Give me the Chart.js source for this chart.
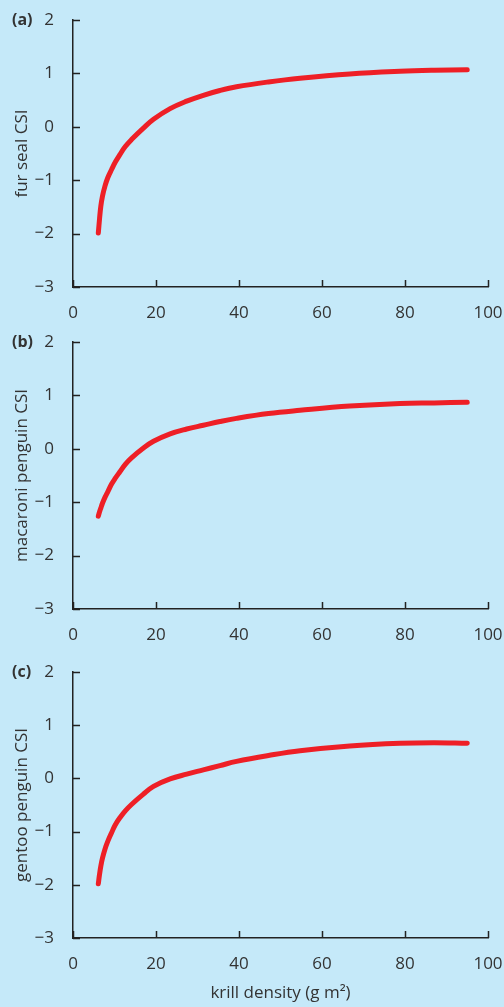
<!DOCTYPE html>
<html>
<head>
<meta charset="utf-8">
<script src="https://cdn.jsdelivr.net/npm/chart.js@4.4.1/dist/chart.umd.min.js"></script>
<style>
  html, body { margin: 0; padding: 0; background: rgb(197,233,249); }
  body { width: 504px; height: 1007px; position: relative; overflow: hidden; }
  .pane { position: absolute; left: 0; width: 504px; }
</style>
</head>
<body>
<div class="pane" style="top:0;height:322px"><canvas id="ca"></canvas></div>
<div class="pane" style="top:322px;height:330px"><canvas id="cb"></canvas></div>
<div class="pane" style="top:652px;height:355px"><canvas id="cc"></canvas></div>
<script>
// ---- data ----
const krillDensity = [6.1, 6.4, 6.7, 7.1, 7.7, 8.4, 9.3, 10.2, 11.3, 12.6, 14.1, 16.9, 19.4, 23.4, 27.4, 31.4, 35.4, 39.4, 47.1, 54.7, 66.7, 78.8, 87, 95];
const furSealCSI  = [-1.99, -1.72, -1.49, -1.30, -1.11, -0.95, -0.80, -0.66, -0.52, -0.37, -0.24, -0.03, 0.14, 0.34, 0.48, 0.59, 0.68, 0.75, 0.84, 0.91, 0.99, 1.04, 1.06, 1.07];
const macaroniCSI = [-1.26, -1.18, -1.11, -1.02, -0.91, -0.80, -0.66, -0.55, -0.43, -0.29, -0.17, 0.01, 0.14, 0.28, 0.37, 0.44, 0.51, 0.57, 0.66, 0.72, 0.80, 0.85, 0.86, 0.87];
const gentooCSI   = [-1.98, -1.80, -1.65, -1.50, -1.33, -1.18, -1.02, -0.87, -0.74, -0.61, -0.49, -0.30, -0.15, -0.01, 0.08, 0.16, 0.24, 0.32, 0.43, 0.52, 0.61, 0.66, 0.67, 0.66];
const panelLabels = ['(a)', '(b)', '(c)'];
const yTitles = ['fur seal CSI', 'macaroni penguin CSI', 'gentoo penguin CSI'];
const xTitle = 'krill density (g m\u00B2)';
const xTicks = [0, 20, 40, 60, 80, 100];
const yTicks = [-3, -2, -1, 0, 1, 2];

const FONT = "'Open Sans', 'Noto Sans', sans-serif";
const TEXT = '#333333';
const AXIS = '#222222';
const RED = '#ee1f26';
const FS = 17;

const inwardTicks = {
  id: 'inwardTicks',
  afterDraw(chart, args, opts) {
    const ctx = chart.ctx;
    const xs = chart.scales.x, ys = chart.scales.y;
    const area = chart.chartArea;
    ctx.save();
    ctx.strokeStyle = AXIS;
    ctx.lineWidth = 1.5;
    ctx.beginPath();
    yTicks.forEach(v => {
      const p = Math.round(ys.getPixelForValue(v)) + 0.5;
      ctx.moveTo(area.left, p); ctx.lineTo(area.left + 7, p);
    });
    xTicks.forEach(v => {
      const p = Math.round(xs.getPixelForValue(v)) + 0.5;
      ctx.moveTo(p, area.bottom); ctx.lineTo(p, area.bottom - 7);
    });
    ctx.stroke();
    ctx.fillStyle = TEXT;
    ctx.font = "bold 16px " + FONT;
    ctx.textAlign = 'left';
    ctx.textBaseline = 'middle';
    ctx.fillText(opts.label, 12, area.top);
    ctx.restore();
  }
};

function makeChart(id, idx, values, xHeight, showXTitle) {
  new Chart(document.getElementById(id), {
    type: 'line',
    data: {
      datasets: [{
        data: krillDensity.map((x, i) => ({ x: x, y: values[i] })),
        borderColor: RED,
        borderWidth: 5,
        borderCapStyle: 'round',
        borderJoinStyle: 'round',
        pointRadius: 0,
        fill: false,
        tension: 0.4
      }]
    },
    options: {
      responsive: true,
      maintainAspectRatio: false,
      animation: false,
      events: [],
      layout: { padding: { top: 20, right: 0, left: 0, bottom: 0 } },
      plugins: { legend: { display: false }, tooltip: { enabled: false }, inwardTicks: { label: panelLabels[idx] } },
      scales: {
        x: {
          type: 'linear', min: 0, max: 100,
          afterBuildTicks: s => { s.ticks = xTicks.map(v => ({ value: v })); },
          grid: { display: false },
          border: { display: true, color: AXIS, width: 1.5 },
          ticks: { color: TEXT, font: { family: FONT, size: FS }, padding: 8, maxRotation: 0 },
          title: { display: showXTitle, text: xTitle, color: TEXT, font: { family: FONT, size: FS }, padding: { top: 12 } },
          afterFit: s => { s.height = xHeight; s.paddingRight = 16; s.paddingLeft = 0; }
        },
        y: {
          type: 'linear', min: -3, max: 2,
          afterBuildTicks: s => { s.ticks = yTicks.map(v => ({ value: v })); },
          grid: { display: false },
          border: { display: true, color: AXIS, width: 1.5 },
          ticks: { color: TEXT, font: { family: FONT, size: FS }, padding: 11,
                   callback: v => String(v).replace('-', '\u2212') },
          title: { display: true, text: yTitles[idx], color: TEXT, font: { family: FONT, size: FS }, padding: { top: 12, bottom: 0 } },
          afterFit: s => { s.width = 73; s.paddingTop = 0; s.paddingBottom = 0; }
        }
      }
    },
    plugins: [inwardTicks]
  });
}

makeChart('ca', 0, furSealCSI, 35, false);
makeChart('cb', 1, macaroniCSI, 43, false);
makeChart('cc', 2, gentooCSI, 69, true);
</script>
</body>
</html>
